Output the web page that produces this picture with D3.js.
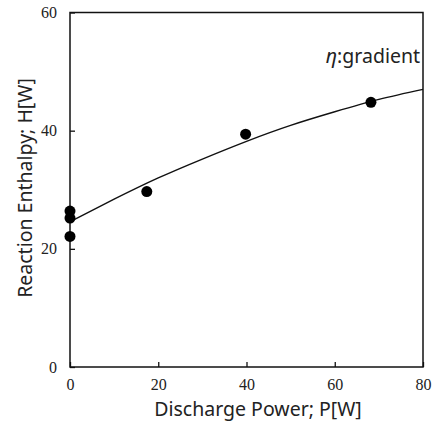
<!DOCTYPE html>
<meta charset="utf-8">
<head>
    <title>Reaction enthalpy vs discharge power</title>
</head>
<style>
 body { margin: 0; background: white; }
 .tick text { font-family: "Liberation Serif", serif; font-size: 16px; fill: #222; }
 .title { font-family: "Noto Sans", sans-serif; font-size: 19.5px; fill: #222; }
 .frame { fill: none; stroke: #111; stroke-width: 1.5px; }
</style>
<body>
    <div id="chart"></div>
    <script src="https://d3js.org/d3.v7.min.js"></script>
    <script>

     // measured points
     var power = [0, 0, 0, 17.4, 39.8, 68.2];
     var enthalpy = [26.4, 25.2, 22.1, 29.7, 39.4, 44.8];

     // trend curve
     var curveP = [0, 10, 20, 30, 40, 50, 60, 70, 80];
     var curveH = [24.6, 28.4, 32.0, 35.2, 38.2, 40.9, 43.2, 45.3, 47.0];

     var xTicks = [0, 20, 40, 60, 80];
     var yTicks = [0, 20, 40, 60];

     // note: "top" is window.top, so use other names
     var width = 435,
         height = 422,
         plotL = 70, plotR = 423, plotT = 12.5, plotB = 367;

     var svg = d3.select("#chart").append("svg")
                 .attr("width", width)
                 .attr("height", height);

     var x = d3.scaleLinear().domain([0, 80]).range([plotL, plotR]);
     var y = d3.scaleLinear().domain([0, 60]).range([plotB, plotT]);

     // axes with inner ticks
     svg.append("g")
        .attr("transform", "translate(0," + plotB + ")")
        .call(d3.axisBottom(x).tickValues(xTicks).tickSize(-5).tickPadding(12))
        .call(function(g) {
            g.select(".domain").remove();
            g.selectAll("line").attr("stroke", "#111").attr("stroke-width", 1.3);
        });

     svg.append("g")
        .attr("transform", "translate(" + plotL + ",0)")
        .call(d3.axisLeft(y).tickValues(yTicks).tickSize(-5).tickPadding(13))
        .call(function(g) {
            g.select(".domain").remove();
            g.selectAll("line").attr("stroke", "#111").attr("stroke-width", 1.3);
        });

     svg.append("rect")
        .attr("class", "frame")
        .attr("x", plotL)
        .attr("y", plotT)
        .attr("width", plotR - plotL)
        .attr("height", plotB - plotT);

     var line = d3.line()
                  .x(function(d, i) { return x(curveP[i]); })
                  .y(function(d) { return y(d); })
                  .curve(d3.curveNatural);

     svg.append("path")
        .datum(curveH)
        .attr("fill", "none")
        .attr("stroke", "#111")
        .attr("stroke-width", 1.4)
        .attr("d", line);

     svg.append("g")
        .selectAll("circle")
        .data(enthalpy)
        .enter()
        .append("circle")
        .attr("cx", function(d, i) { return x(power[i]); })
        .attr("cy", function(d) { return y(d); })
        .attr("r", 5.5)
        .attr("fill", "#000");

     var lab = svg.append("text")
        .attr("class", "title")
        .attr("x", 420)
        .attr("y", 63)
        .attr("text-anchor", "end");
     lab.append("tspan").attr("font-style", "italic").text("η");
     lab.append("tspan").text(":gradient");

     svg.append("text")
        .attr("class", "title")
        .attr("x", 258)
        .attr("y", 416)
        .attr("text-anchor", "middle")
        .text("Discharge Power; P[W]");

     svg.append("text")
        .attr("class", "title")
        .attr("transform", "translate(32,188) rotate(-90)")
        .attr("text-anchor", "middle")
        .text("Reaction Enthalpy; H[W]");

    </script>
</body>
